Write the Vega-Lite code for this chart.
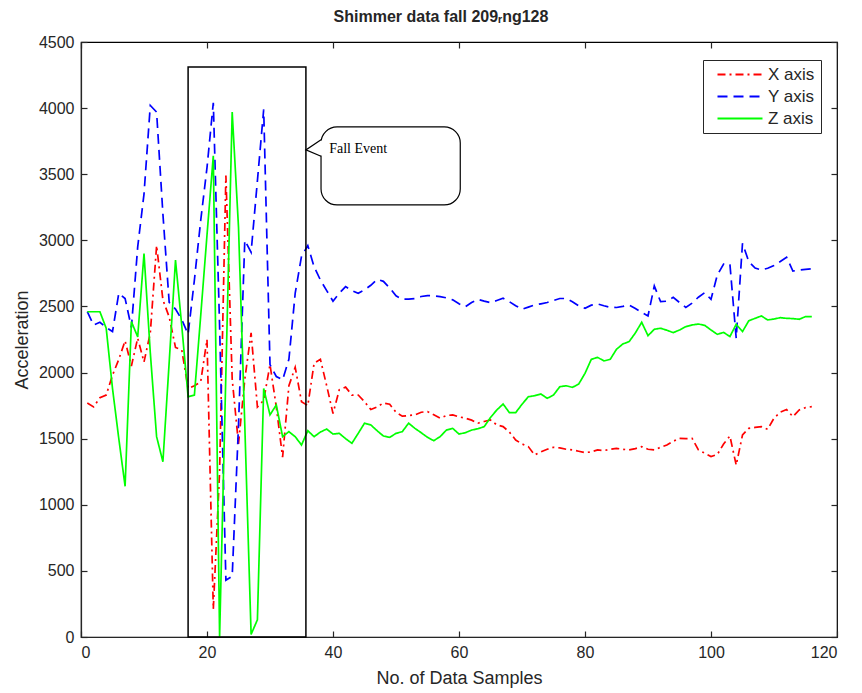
{
  "$schema": "https://vega.github.io/schema/vega-lite/v6.json",
  "width": 756,
  "height": 595,
  "autosize": "none",
  "padding": {"left": 81, "top": 42, "right": 25, "bottom": 56},
  "background": "white",
  "config": {
    "font": "Liberation Sans",
    "view": {"stroke": "black", "strokeWidth": 1.2},
    "axis": {"domainColor": "#262626", "tickColor": "#262626", "labelColor": "#262626", "titleColor": "#262626", "labelFontSize": 16, "titleFontSize": 18, "titleFontWeight": "normal", "grid": false, "tickSize": -6, "labelPadding": 13, "domainWidth": 1.2, "tickWidth": 1.2, "format": "d"}
  },
  "title": {"text": "Shimmer data fall 209ᵣng128", "fontSize": 16, "fontWeight": "bold", "font": "Liberation Sans", "offset": 9, "dx": -18, "color": "#262626"},
  "datasets": {
    "acc": [
      {"n":1,"X axis":1770,"Y axis":2460,"Z axis":2460},
      {"n":2,"X axis":1740,"Y axis":2360,"Z axis":2460},
      {"n":3,"X axis":1810,"Y axis":2380,"Z axis":2460},
      {"n":4,"X axis":1830,"Y axis":2340,"Z axis":2335},
      {"n":5,"X axis":1980,"Y axis":2310,"Z axis":1880},
      {"n":6,"X axis":2100,"Y axis":2600,"Z axis":1500},
      {"n":7,"X axis":2240,"Y axis":2560,"Z axis":1140},
      {"n":8,"X axis":2050,"Y axis":2340,"Z axis":2385},
      {"n":9,"X axis":2260,"Y axis":2950,"Z axis":2270},
      {"n":10,"X axis":2080,"Y axis":3350,"Z axis":2900},
      {"n":11,"X axis":2300,"Y axis":4020,"Z axis":2150},
      {"n":12,"X axis":2960,"Y axis":3970,"Z axis":1515},
      {"n":13,"X axis":2550,"Y axis":3200,"Z axis":1326},
      {"n":14,"X axis":2420,"Y axis":2530,"Z axis":2080},
      {"n":15,"X axis":2190,"Y axis":2480,"Z axis":2850},
      {"n":16,"X axis":2170,"Y axis":2400,"Z axis":2350},
      {"n":17,"X axis":1880,"Y axis":2290,"Z axis":1817},
      {"n":18,"X axis":1900,"Y axis":2700,"Z axis":1830},
      {"n":19,"X axis":1930,"Y axis":3150,"Z axis":2430},
      {"n":20,"X axis":2250,"Y axis":3550,"Z axis":3040},
      {"n":21,"X axis":210,"Y axis":4040,"Z axis":3640},
      {"n":22,"X axis":1250,"Y axis":2350,"Z axis":0},
      {"n":23,"X axis":3490,"Y axis":430,"Z axis":2000},
      {"n":24,"X axis":1950,"Y axis":460,"Z axis":3970},
      {"n":25,"X axis":1460,"Y axis":1600,"Z axis":3100},
      {"n":26,"X axis":1950,"Y axis":3000,"Z axis":1600},
      {"n":27,"X axis":2300,"Y axis":2910,"Z axis":20},
      {"n":28,"X axis":1740,"Y axis":3450,"Z axis":130},
      {"n":29,"X axis":1790,"Y axis":3990,"Z axis":1880},
      {"n":30,"X axis":2060,"Y axis":2060,"Z axis":1680},
      {"n":31,"X axis":1740,"Y axis":1970,"Z axis":1755},
      {"n":32,"X axis":1360,"Y axis":1945,"Z axis":1515},
      {"n":33,"X axis":1900,"Y axis":2100,"Z axis":1553},
      {"n":34,"X axis":2040,"Y axis":2600,"Z axis":1515},
      {"n":35,"X axis":1780,"Y axis":2880,"Z axis":1452},
      {"n":36,"X axis":1750,"Y axis":2960,"Z axis":1560},
      {"n":37,"X axis":2070,"Y axis":2800,"Z axis":1515},
      {"n":38,"X axis":2100,"Y axis":2700,"Z axis":1550},
      {"n":39,"X axis":1900,"Y axis":2620,"Z axis":1573},
      {"n":40,"X axis":1690,"Y axis":2540,"Z axis":1535},
      {"n":41,"X axis":1870,"Y axis":2600,"Z axis":1540},
      {"n":42,"X axis":1890,"Y axis":2650,"Z axis":1500},
      {"n":43,"X axis":1830,"Y axis":2620,"Z axis":1465},
      {"n":44,"X axis":1830,"Y axis":2600,"Z axis":1540},
      {"n":45,"X axis":1780,"Y axis":2625,"Z axis":1617},
      {"n":46,"X axis":1720,"Y axis":2660,"Z axis":1604},
      {"n":47,"X axis":1740,"Y axis":2705,"Z axis":1560},
      {"n":48,"X axis":1770,"Y axis":2690,"Z axis":1520},
      {"n":49,"X axis":1760,"Y axis":2640,"Z axis":1510},
      {"n":50,"X axis":1700,"Y axis":2580,"Z axis":1540},
      {"n":51,"X axis":1670,"Y axis":2555,"Z axis":1553},
      {"n":52,"X axis":1675,"Y axis":2555,"Z axis":1617},
      {"n":53,"X axis":1680,"Y axis":2560,"Z axis":1578},
      {"n":54,"X axis":1700,"Y axis":2575,"Z axis":1545},
      {"n":55,"X axis":1705,"Y axis":2582,"Z axis":1510},
      {"n":56,"X axis":1680,"Y axis":2580,"Z axis":1485},
      {"n":57,"X axis":1655,"Y axis":2574,"Z axis":1515},
      {"n":58,"X axis":1675,"Y axis":2565,"Z axis":1565},
      {"n":59,"X axis":1680,"Y axis":2550,"Z axis":1578},
      {"n":60,"X axis":1665,"Y axis":2520,"Z axis":1535},
      {"n":61,"X axis":1655,"Y axis":2498,"Z axis":1545},
      {"n":62,"X axis":1640,"Y axis":2530,"Z axis":1565},
      {"n":63,"X axis":1617,"Y axis":2554,"Z axis":1575},
      {"n":64,"X axis":1630,"Y axis":2540,"Z axis":1591},
      {"n":65,"X axis":1641,"Y axis":2529,"Z axis":1660},
      {"n":66,"X axis":1604,"Y axis":2545,"Z axis":1717},
      {"n":67,"X axis":1591,"Y axis":2562,"Z axis":1762},
      {"n":68,"X axis":1550,"Y axis":2536,"Z axis":1697},
      {"n":69,"X axis":1490,"Y axis":2505,"Z axis":1697},
      {"n":70,"X axis":1460,"Y axis":2479,"Z axis":1760},
      {"n":71,"X axis":1440,"Y axis":2495,"Z axis":1817},
      {"n":72,"X axis":1377,"Y axis":2511,"Z axis":1825},
      {"n":73,"X axis":1400,"Y axis":2520,"Z axis":1838},
      {"n":74,"X axis":1420,"Y axis":2530,"Z axis":1805},
      {"n":75,"X axis":1435,"Y axis":2545,"Z axis":1830},
      {"n":76,"X axis":1430,"Y axis":2560,"Z axis":1893},
      {"n":77,"X axis":1420,"Y axis":2560,"Z axis":1900},
      {"n":78,"X axis":1415,"Y axis":2536,"Z axis":1888},
      {"n":79,"X axis":1405,"Y axis":2505,"Z axis":1913},
      {"n":80,"X axis":1395,"Y axis":2486,"Z axis":1994},
      {"n":81,"X axis":1400,"Y axis":2510,"Z axis":2100},
      {"n":82,"X axis":1415,"Y axis":2519,"Z axis":2115},
      {"n":83,"X axis":1410,"Y axis":2505,"Z axis":2088},
      {"n":84,"X axis":1420,"Y axis":2493,"Z axis":2100},
      {"n":85,"X axis":1427,"Y axis":2492,"Z axis":2176},
      {"n":86,"X axis":1420,"Y axis":2500,"Z axis":2216},
      {"n":87,"X axis":1415,"Y axis":2511,"Z axis":2234},
      {"n":88,"X axis":1425,"Y axis":2485,"Z axis":2300},
      {"n":89,"X axis":1440,"Y axis":2455,"Z axis":2380},
      {"n":90,"X axis":1420,"Y axis":2428,"Z axis":2279},
      {"n":91,"X axis":1415,"Y axis":2655,"Z axis":2327},
      {"n":92,"X axis":1435,"Y axis":2536,"Z axis":2335},
      {"n":93,"X axis":1452,"Y axis":2540,"Z axis":2320},
      {"n":94,"X axis":1480,"Y axis":2569,"Z axis":2302},
      {"n":95,"X axis":1502,"Y axis":2530,"Z axis":2322},
      {"n":96,"X axis":1500,"Y axis":2493,"Z axis":2347},
      {"n":97,"X axis":1502,"Y axis":2525,"Z axis":2360},
      {"n":98,"X axis":1415,"Y axis":2570,"Z axis":2367},
      {"n":99,"X axis":1390,"Y axis":2604,"Z axis":2357},
      {"n":100,"X axis":1365,"Y axis":2554,"Z axis":2322},
      {"n":101,"X axis":1380,"Y axis":2738,"Z axis":2289},
      {"n":102,"X axis":1460,"Y axis":2821,"Z axis":2304},
      {"n":103,"X axis":1520,"Y axis":2821,"Z axis":2272},
      {"n":104,"X axis":1300,"Y axis":2259,"Z axis":2365},
      {"n":105,"X axis":1528,"Y axis":2978,"Z axis":2310},
      {"n":106,"X axis":1578,"Y axis":2839,"Z axis":2392},
      {"n":107,"X axis":1585,"Y axis":2790,"Z axis":2410},
      {"n":108,"X axis":1591,"Y axis":2776,"Z axis":2428},
      {"n":109,"X axis":1571,"Y axis":2789,"Z axis":2398},
      {"n":110,"X axis":1655,"Y axis":2810,"Z axis":2405},
      {"n":111,"X axis":1700,"Y axis":2840,"Z axis":2415},
      {"n":112,"X axis":1720,"Y axis":2872,"Z axis":2410},
      {"n":113,"X axis":1667,"Y axis":2768,"Z axis":2408},
      {"n":114,"X axis":1717,"Y axis":2775,"Z axis":2403},
      {"n":115,"X axis":1735,"Y axis":2781,"Z axis":2423},
      {"n":116,"X axis":1742,"Y axis":2785,"Z axis":2423}
    ],
    "box": [{"x1": 17, "x2": 35.7, "y1": 0, "y2": 4310}],
    "bubble": [{"x1": 38.1, "x2": 60.2, "y1": 3268, "y2": 3858}],
    "gap": [{"px": 38.1, "py": 3755}, {"px": 38.1, "py": 3641}],
    "pointer": [{"px": 38.1, "py": 3760, "o": 1}, {"px": 35.7, "py": 3684, "o": 2}, {"px": 38.1, "py": 3636, "o": 3}],
    "label": [{"px": 39.4, "py": 3690, "t": "Fall Event"}]
  },
  "resolve": {"axis": {"x": "independent", "y": "independent"}},
  "layer": [
    {
      "data": {"name": "acc"},
      "transform": [{"fold": ["X axis", "Y axis", "Z axis"], "as": ["axis", "value"]}],
      "mark": {"type": "line", "strokeWidth": 1.7, "clip": true},
      "encoding": {
        "x": {"field": "n", "type": "quantitative", "scale": {"domain": [0, 120], "nice": false}, "axis": {"values": [0, 20, 40, 60, 80, 100, 120], "title": "No. of Data Samples", "orient": "bottom", "titlePadding": 9}},
        "y": {"field": "value", "type": "quantitative", "scale": {"domain": [0, 4500], "nice": false}, "axis": {"values": [0, 500, 1000, 1500, 2000, 2500, 3000, 3500, 4000, 4500], "title": "Acceleration", "orient": "left", "titlePadding": 7}},
        "color": {"field": "axis", "type": "nominal", "scale": {"domain": ["X axis", "Y axis", "Z axis"], "range": ["#ff0000", "#0000ff", "#00ff00"]},
          "legend": {"title": null, "orient": "none", "legendX": 622, "legendY": 18, "symbolType": "M0,0H10", "symbolSize": 81, "symbolStrokeWidth": 2, "labelFontSize": 17, "labelColor": "#262626", "strokeColor": "#262626", "fillColor": "white", "padding": 6, "rowPadding": 4, "labelOffset": 42}},
        "strokeDash": {"field": "axis", "type": "nominal", "scale": {"domain": ["X axis", "Y axis", "Z axis"], "range": [[8, 4, 2, 4], [10, 6], [1, 0]]}}
      }
    },
    {
      "data": {"name": "box"},
      "mark": {"type": "rect", "fill": null, "fillOpacity": 0, "stroke": "black", "strokeWidth": 1.5},
      "encoding": {
        "x": {"field": "x1", "type": "quantitative", "axis": {"orient": "top", "labels": false, "title": null, "values": [0, 20, 40, 60, 80, 100, 120], "domain": false}},
        "x2": {"field": "x2"},
        "y": {"field": "y1", "type": "quantitative", "axis": {"orient": "right", "labels": false, "title": null, "values": [0, 500, 1000, 1500, 2000, 2500, 3000, 3500, 4000, 4500], "domain": false}},
        "y2": {"field": "y2"}
      }
    },
    {
      "data": {"name": "bubble"},
      "mark": {"type": "rect", "fill": "white", "stroke": "black", "strokeWidth": 1.2, "cornerRadius": 16},
      "encoding": {
        "x": {"field": "x1", "type": "quantitative", "axis": null},
        "x2": {"field": "x2"},
        "y": {"field": "y1", "type": "quantitative", "axis": null},
        "y2": {"field": "y2"}
      }
    },
    {
      "data": {"name": "gap"},
      "mark": {"type": "line", "stroke": "white", "strokeWidth": 3},
      "encoding": {
        "x": {"field": "px", "type": "quantitative", "axis": null},
        "y": {"field": "py", "type": "quantitative", "axis": null}
      }
    },
    {
      "data": {"name": "pointer"},
      "mark": {"type": "line", "stroke": "black", "strokeWidth": 1.2},
      "encoding": {
        "x": {"field": "px", "type": "quantitative", "axis": null},
        "y": {"field": "py", "type": "quantitative", "axis": null},
        "order": {"field": "o"}
      }
    },
    {
      "data": {"name": "label"},
      "mark": {"type": "text", "font": "Liberation Serif", "fontSize": 14, "align": "left", "baseline": "middle", "color": "black"},
      "encoding": {
        "x": {"field": "px", "type": "quantitative", "axis": null},
        "y": {"field": "py", "type": "quantitative", "axis": null},
        "text": {"field": "t"}
      }
    }
  ]
}
